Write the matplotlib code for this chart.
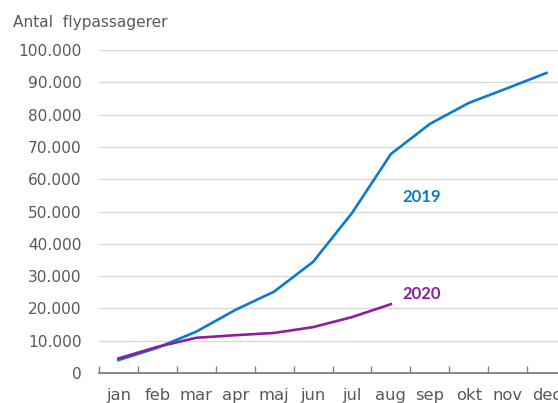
import matplotlib
matplotlib.use("Agg")
import matplotlib.pyplot as plt
import matplotlib.ticker as mticker
import numpy as np

# data
months = ["jan", "feb", "mar", "apr", "maj", "jun", "jul", "aug", "sep", "okt", "nov", "dec"]
passengers_2019 = [4000, 7800, 12800, 19500, 25200, 34400, 49500, 67800, 77100, 83600, 88200, 92900]
passengers_2020 = [4500, 8100, 10900, 11700, 12400, 14200, 17300, 21300]

blue = "#0A7BD0"
purple = "#8E1F9C"
grey_text = "#595959"

plt.rcParams["font.family"] = ["DejaVu Sans"]

fig = plt.figure(figsize=(5.58, 4.03), dpi=100)
ax = fig.add_axes([99 / 558, 1 - 373 / 403, 467 / 558, (373 - 50) / 403])

x19 = np.arange(len(passengers_2019))
x20 = np.arange(len(passengers_2020))
ax.plot(x19, passengers_2019, color=blue, lw=1.9, solid_joinstyle="miter", zorder=3)
ax.plot(x20, passengers_2020, color=purple, lw=1.9, solid_joinstyle="miter", zorder=3)

ax.set_xlim(-0.5, len(months) - 0.5)
ax.set_ylim(0, 100000)

# y axis
ax.set_yticks(np.arange(0, 100001, 10000))
ax.yaxis.set_major_formatter(mticker.FuncFormatter(lambda v, p: f"{int(v):,}".replace(",", ".")))
ax.tick_params(axis="y", length=0, pad=12.5, labelsize=11.1, labelcolor=grey_text)
ax.grid(axis="y", color="#D9D9D9", lw=1)
ax.set_axisbelow(True)

# x axis: labels centred, tick marks between categories
ax.set_xticks(np.arange(len(months)))
ax.set_xticklabels(months)
ax.set_xticks(np.arange(-0.5, len(months)), minor=True)
ax.tick_params(axis="x", which="major", length=0, pad=11, labelsize=11.8, labelcolor=grey_text)
ax.tick_params(axis="x", which="minor", direction="in", length=5, width=1, color="#808080")

for s in ["left", "right", "top"]:
    ax.spines[s].set_visible(False)
ax.spines["bottom"].set_color("#808080")
ax.spines["bottom"].set_linewidth(1.3)

fig.text(13 / 558, 1 - 22 / 403, "Antal  flypassagerer", fontsize=11.1, color=grey_text,
         ha="left", va="center")

ax.text(7.8, 54500, "2019", color=blue, fontsize=12, fontweight="bold", family="Lato",
        ha="center", va="center")
ax.text(7.8, 24500, "2020", color=purple, fontsize=12, fontweight="bold", family="Lato",
        ha="center", va="center")

fig.savefig("out.png", dpi=100)
